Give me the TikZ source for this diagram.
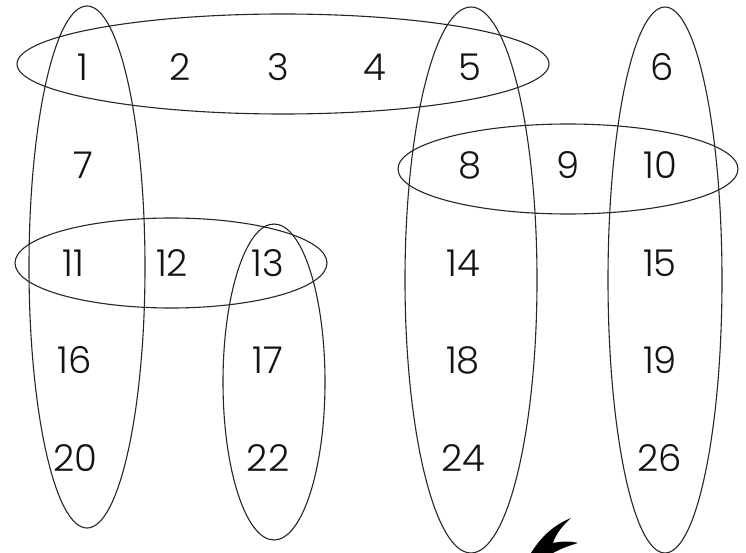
\documentclass[tikz,border=0pt]{standalone}
\usepackage{fontspec}
\newfontfamily\numfont{Poppins Light}
\begin{document}
\begin{tikzpicture}[x=1pt,y=-1pt]
\tikzset{
  setline/.style={draw=black!85, line width=1.1pt},
  num/.style={font=\numfont\fontsize{37}{37}\selectfont, text=black!92, inner sep=0pt}
}
\useasboundingbox[fill=white] (0,0) rectangle (746,553);
% sets
\draw[setline] (283,64) ellipse [x radius=266pt, y radius=50pt];
\draw[setline] (87,267) ellipse [x radius=58pt, y radius=261pt];
\draw[setline] (171,263) ellipse [x radius=156pt, y radius=45pt];
\draw[setline] (274,382) ellipse [x radius=51pt, y radius=158pt];
\draw[setline] (471,280) ellipse [x radius=66pt, y radius=273pt];
\draw[setline] (665,280) ellipse [x radius=57pt, y radius=273pt];
\draw[setline] (568,169) ellipse [x radius=170pt, y radius=45pt];
% numbers
\node[num] (n1) at (83,67) {1};
\node[num] (n2) at (180,67) {2};
\node[num] (n3) at (278,67) {3};
\node[num] (n4) at (375,67) {4};
\node[num] (n5) at (470,67) {5};
\node[num] (n6) at (662,67) {6};
\node[num] (n7) at (83,165) {7};
\node[num] (n8) at (470,165) {8};
\node[num] (n9) at (568,165) {9};
\node[num] (n10) at (660,165) {10};
\node[num] (n11) at (73,263) {11};
\node[num] (n12) at (172,263) {12};
\node[num] (n13) at (268,263) {13};
\node[num] (n14) at (463,263) {14};
\node[num] (n15) at (660,263) {15};
\node[num] (n16) at (75,360) {16};
\node[num] (n17) at (268,360) {17};
\node[num] (n18) at (463,360) {18};
\node[num] (n19) at (660,360) {19};
\node[num] (n20) at (75,458) {20};
\node[num] (n22) at (268,458) {22};
\node[num] (n24) at (463,458) {24};
\node[num] (n26) at (660,458) {26};
% black swoosh
\fill[black] (531,553) .. controls (542,535) and (556,524) .. (571,518)
  .. controls (562,526) and (556,534) .. (553,543)
  .. controls (562,541) and (570,541) .. (578,543)
  .. controls (568,546) and (560,549) .. (553,553) -- cycle;
\end{tikzpicture}
\end{document}
